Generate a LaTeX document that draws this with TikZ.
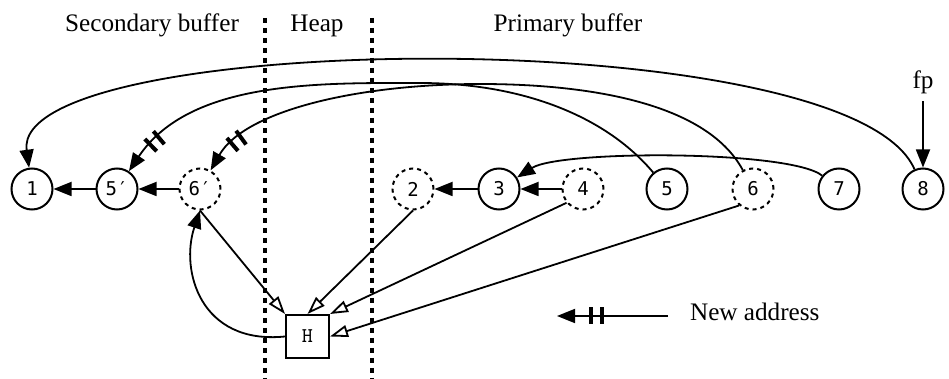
\documentclass[tikz,border=0pt]{standalone}
\usepackage{fontspec}
\setmainfont{Liberation Serif}
\newfontfamily\cellfont{DejaVu Sans Mono}
\usetikzlibrary{arrows.meta,decorations.markings}

\tikzset{
  cell/.style={circle, draw, line width=1pt, minimum size=20.5pt, inner sep=0pt,
    font=\cellfont\fontsize{9.5}{11}\selectfont},
  freed/.style={cell, dash pattern=on 2pt off 2pt},
  heapbox/.style={rectangle, draw, line width=1pt, minimum size=21.5pt, inner sep=0pt,
    font=\ttfamily\fontsize{10.5}{12}\selectfont},
  label/.style={anchor=base, font=\fontsize{12.6}{15}\selectfont},
  ptr/.style={line width=0.9pt, -{Triangle[length=9pt,width=7pt]}},
  toheap/.style={line width=0.9pt, -{Triangle[open,length=9pt,width=6pt]}},
  bar/.style={insert path={(-1pt,-4.25pt) rectangle (1pt,4.25pt)}},
  fwd/.style={ptr, postaction={decorate},
    decoration={markings,
      mark=at position -17pt with {\fill[bar];},
      mark=at position -22.5pt with {\fill[bar];}}},
  divider/.style={line width=2.2pt, dash pattern=on 2.5pt off 2.5pt},
}

\begin{document}
\begin{tikzpicture}[x=0.5pt, y=-0.5pt]
  \useasboundingbox (0,0) rectangle (949,379);

% Regions
  \node[label] (secbuf)  at (152,32) {Secondary buffer};
  \node[label] (heap)    at (317,32) {Heap};
  \node[label] (primbuf) at (568,32) {Primary buffer};
  \draw[divider] (265,18) -- (265,379);
  \draw[divider] (372,18) -- (372,379);

% Nodes
  \node[cell]  (n1)  at (32,189)  {1};
  \node[cell]  (n5p) at (117,189) {5′};
  \node[freed] (n6p) at (200,189) {6′};
  \node[freed] (n2)  at (413,189) {2};
  \node[cell]  (n3)  at (499,189) {3};
  \node[freed] (n4)  at (583,189) {4};
  \node[cell]  (n5)  at (667,189) {5};
  \node[freed] (n6)  at (753,189) {6};
  \node[cell]  (n7)  at (839,189) {7};
  \node[cell]  (n8)  at (923,189) {8};
  \node[heapbox] (H) at (307.5,336.5) {H};
  \node[label] (fp)  at (923,89) {fp};

% Edges
  \draw[ptr] (fp) -- (n8);
  \draw[ptr] (n5p) -- (n1);
  \draw[ptr] (n6p) -- (n5p);
  \draw[ptr] (n3) -- (n2);
  \draw[ptr] (n4) -- (n3);
  \draw[ptr] (n7) .. controls (790,150) and (560,150) .. (n3);
  \draw[ptr] (n8) .. controls (850,20) and (10,30) .. (n1);
  \draw[fwd] (n5) .. controls (605,115) and (520,83) .. (420,83)
                  .. controls (320,83) and (190,80) .. (n5p);
  \draw[fwd] (n6) .. controls (705,100) and (580,84) .. (480,84)
                  .. controls (360,84) and (245,110) .. (n6p);
  \draw[ptr] (H.west) .. controls (200,345) and (180,270) .. (n6p.south);

  \draw[toheap] (n6p.south) -- (H.north west);
  \draw[toheap] (n2.south) -- (H.north);
  \draw[toheap] (n4.220) -- (H.north east);
  \draw[toheap] (n6.230) -- (H.east);

% Legend
  \coordinate (legstart) at (668,316);
  \coordinate (legtip) at (557,316);
  \draw[fwd] (legstart) -- (legtip);
  \node[label, anchor=base west] (legend) at (683,321) {New address};

\end{tikzpicture}
\end{document}
